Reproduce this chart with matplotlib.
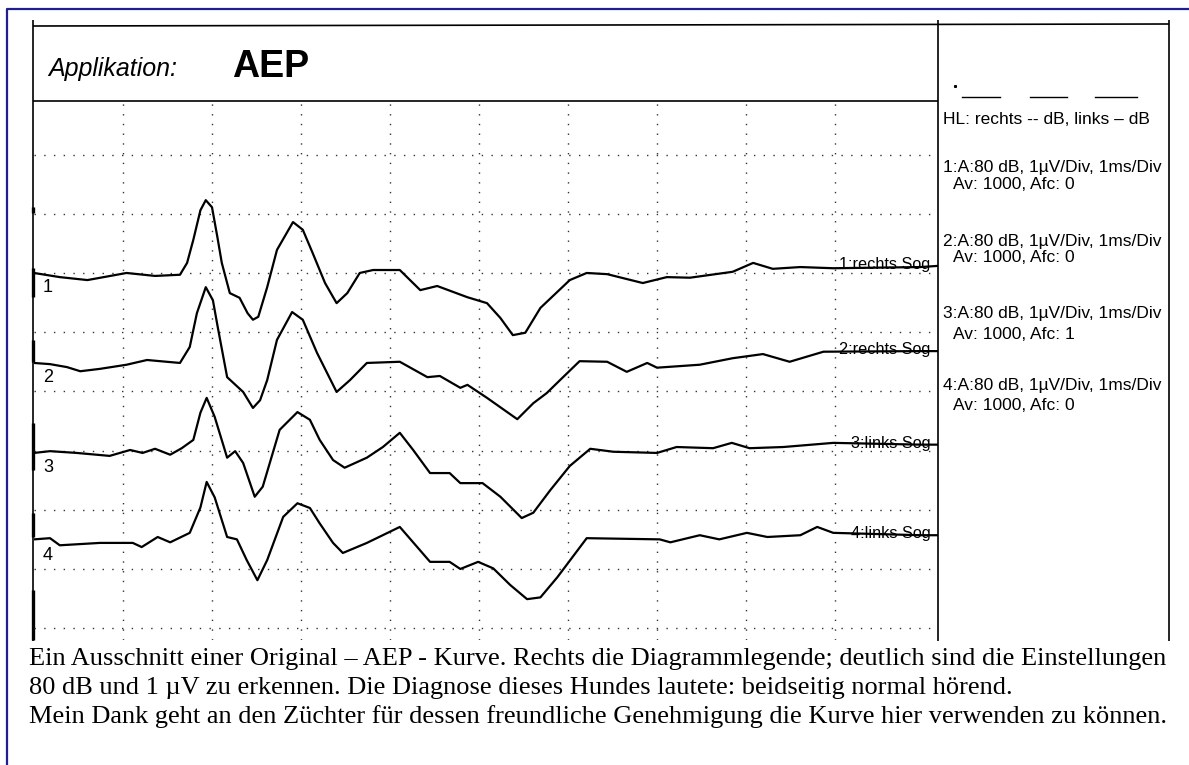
import numpy as np
import matplotlib.pyplot as plt

# AEP-Kurven: Zeit in ms, Amplitude in µV relativ zur eigenen Nulllinie
t1 = [0, 0.29, 0.60, 1.04, 1.36, 1.64, 1.72, 1.79, 1.87, 1.93, 2.00, 2.06, 2.11, 2.20, 2.31, 2.40, 2.46, 2.52,
      2.62, 2.73, 2.91, 3.02, 3.13, 3.27, 3.40, 3.52, 3.66, 3.81, 4.11, 4.34, 4.53, 4.87, 5.09, 5.24, 5.38, 5.52,
      5.69, 6.02, 6.21, 6.44, 6.84, 7.11, 7.37, 7.85, 8.08, 8.30, 8.61, 8.98, 9.96, 10.16]
v1 = [0, -0.07, -0.12, 0.0, -0.05, -0.03, 0.17, 0.56, 1.06, 1.23, 1.11, 0.61, 0.17, -0.34, -0.42, -0.68, -0.79, -0.74,
      -0.24, 0.39, 0.86, 0.73, 0.34, -0.17, -0.51, -0.34, 0.0, 0.05, 0.05, -0.29, -0.22, -0.41, -0.51, -0.76, -1.05, -1.01,
      -0.59, -0.12, 0.0, -0.02, -0.17, -0.07, -0.08, 0.02, 0.17, 0.07, 0.10, 0.08, 0.10, 0.12]

t2 = [0, 0.18, 0.37, 0.52, 0.74, 1.04, 1.27, 1.49, 1.64, 1.75, 1.83, 1.93, 2.01, 2.07, 2.17, 2.35, 2.46, 2.54, 2.62,
      2.73, 2.90, 3.02, 3.18, 3.40, 3.55, 3.74, 4.11, 4.42, 4.56, 4.79, 4.87, 5.09, 5.43, 5.61, 5.76, 5.91, 6.13,
      6.44, 6.66, 6.89, 7.00, 7.48, 7.85, 8.19, 8.49, 8.87, 9.96, 10.16]
v2 = [0, -0.02, -0.07, -0.14, -0.10, -0.03, 0.05, 0.02, 0.0, 0.27, 0.84, 1.28, 1.06, 0.56, -0.24, -0.49, -0.76, -0.63,
      -0.29, 0.39, 0.86, 0.73, 0.17, -0.49, -0.29, 0.0, 0.02, -0.24, -0.22, -0.42, -0.37, -0.59, -0.95, -0.68, -0.51,
      -0.29, 0.03, 0.02, -0.15, 0.0, -0.08, -0.03, 0.08, 0.15, 0.02, 0.19, 0.20, 0.20]

t3 = [0, 0.18, 0.48, 0.85, 1.08, 1.22, 1.36, 1.53, 1.66, 1.79, 1.87, 1.94, 2.03, 2.17, 2.26, 2.35, 2.48, 2.57, 2.76,
      2.96, 3.10, 3.21, 3.36, 3.49, 3.74, 3.92, 4.11, 4.26, 4.45, 4.67, 4.79, 5.04, 5.24, 5.48, 5.61, 5.80, 6.02,
      6.25, 6.51, 7.00, 7.22, 7.63, 7.84, 8.04, 8.42, 8.98, 9.96, 10.16]
v3 = [0, 0.03, 0.0, -0.05, 0.05, 0.0, 0.07, -0.03, 0.08, 0.22, 0.68, 0.93, 0.61, -0.08, 0.03, -0.17, -0.74, -0.57, 0.39,
      0.69, 0.56, 0.22, -0.12, -0.25, -0.08, 0.10, 0.34, 0.05, -0.34, -0.34, -0.51, -0.51, -0.74, -1.10, -1.01, -0.63,
      -0.22, 0.07, 0.02, 0.0, 0.10, 0.08, 0.17, 0.08, 0.10, 0.17, 0.14, 0.14]

t4 = [0, 0.18, 0.29, 0.74, 1.11, 1.21, 1.39, 1.53, 1.75, 1.87, 1.94, 2.03, 2.17, 2.28, 2.39, 2.51, 2.62, 2.80, 2.96,
      3.10, 3.21, 3.36, 3.47, 3.74, 4.11, 4.45, 4.67, 4.79, 4.99, 5.16, 5.35, 5.54, 5.69, 5.88, 6.04, 6.21, 7.03,
      7.15, 7.48, 7.70, 8.01, 8.24, 8.61, 8.80, 8.98, 9.96, 10.16]
v4 = [0.03, 0.05, -0.07, -0.03, -0.03, -0.10, 0.07, -0.02, 0.14, 0.57, 1.00, 0.74, 0.07, 0.03, -0.32, -0.66, -0.32,
      0.41, 0.64, 0.56, 0.30, -0.03, -0.20, -0.03, 0.24, -0.35, -0.35, -0.47, -0.35, -0.46, -0.74, -0.98, -0.95, -0.61,
      -0.29, 0.05, 0.03, -0.02, 0.10, 0.03, 0.14, 0.07, 0.10, 0.24, 0.14, 0.10, 0.10]

times = [t1, t2, t3, t4]
values = [v1, v2, v3, v4]
offsets = [6.20, 4.68, 3.16, 1.67]   # Nulllinie jeder Kurve in µV
trace_labels = ["1:rechts Sog", "2:rechts Sog", "3:links Sog", "4:links Sog"]
trace_numbers = ["1", "2", "3", "4"]

legend_lines = [
    ("HL: rechts -- dB, links – dB", 0, 124),
    ("1:A:80 dB, 1µV/Div, 1ms/Div", 0, 172),
    ("Av: 1000, Afc: 0", 10, 189),
    ("2:A:80 dB, 1µV/Div, 1ms/Div", 0, 246),
    ("Av: 1000, Afc: 0", 10, 262),
    ("3:A:80 dB, 1µV/Div, 1ms/Div", 0, 318),
    ("Av: 1000, Afc: 1", 10, 339),
    ("4:A:80 dB, 1µV/Div, 1ms/Div", 0, 390),
    ("Av: 1000, Afc: 0", 10, 410),
]

caption = [
    "Ein Ausschnitt einer Original – AEP - Kurve. Rechts die Diagrammlegende; deutlich sind die Einstellungen",
    "80 dB und 1 µV zu erkennen. Die Diagnose dieses Hundes lautete: beidseitig normal hörend.",
    "Mein Dank geht an den Züchter für dessen freundliche Genehmigung die Kurve hier verwenden zu können.",
]

W, H = 1189, 765
fig = plt.figure(figsize=(W / 100, H / 100), dpi=100)
fig.patch.set_facecolor("white")

# Hintergrund in Pixelkoordinaten: Rahmen, Kopfzeile, Legende, Bildunterschrift
bg = fig.add_axes([0, 0, 1, 1])
bg.set_xlim(0, W)
bg.set_ylim(H, 0)
bg.axis("off")

navy = "#1f1f8f"
bg.plot([7, 7, W + 5], [H + 5, 9, 9], color=navy, lw=1.6, solid_capstyle="butt")

k = dict(color="black", lw=1.2, solid_capstyle="butt")
bg.plot([33, 33], [20, 641], **k)
bg.plot([938, 938], [20, 641], **k)
bg.plot([1169, 1169], [20, 641], **k)
bg.plot([33, 1169], [26, 24], **k)
bg.plot([33, 938], [101, 101], **k)
for y0, y1 in [(207, 213), (268, 297), (340, 362), (423, 470), (513, 537), (590, 640)]:
    bg.plot([33, 33], [y0, y1], color="black", lw=2.4, solid_capstyle="butt")

# kurze Striche oben in der Legende
for x0, x1 in [(962, 1000), (1030, 1067), (1095, 1137)]:
    bg.plot([x0, x1], [97, 97], color="black", lw=1.0)
bg.plot([955], [86], marker="s", ms=1.2, color="black")

bg.text(48, 76, "Applikation:", fontsize=18, style="italic", family="Liberation Sans",
        va="baseline", ha="left")
bg.text(232, 77, "AEP", fontsize=27, weight="bold", family="Liberation Sans",
        va="baseline", ha="left")

for txt, dx, y in legend_lines:
    bg.text(943 + dx, y, txt, fontsize=12.5, family=["Liberation Sans", "DejaVu Sans"],
            va="baseline", ha="left")

for i, line in enumerate(caption):
    bg.text(29, 665 + i * 29, line, fontsize=19, family="Liberation Serif",
            va="baseline", ha="left")

# Kurvenbereich: 1 ms/Div horizontal, 1 µV/Div vertikal
ax = fig.add_axes([34 / W, (H - 640) / H, (938 - 34) / W, (640 - 101) / H])
ax.set_xlim(0, 10.157)
ax.set_ylim(0, 9.105)
ax.axis("off")
ax.patch.set_alpha(0)

for ms in range(1, 10):
    ax.axvline(ms, color="0.2", lw=1.0, ls=(0, (1, 6)))
for r in np.arange(0.2, 8.3, 1.0):
    ax.axhline(r, color="0.2", lw=1.0, ls=(0, (1, 6)))

for t, v, off, lab, num in zip(times, values, offsets, trace_labels, trace_numbers):
    y = np.array(v) + off
    ax.plot(t, y, color="black", lw=1.6, solid_joinstyle="round")
    ax.text(10.07, y[-1] - 0.05, lab, ha="right", va="baseline", fontsize=11.7,
            family="Liberation Sans")
    ax.text(0.1, off - 0.25, num, ha="left", va="center", fontsize=13,
            family="Liberation Sans")

fig.savefig("out.png", dpi=100)
